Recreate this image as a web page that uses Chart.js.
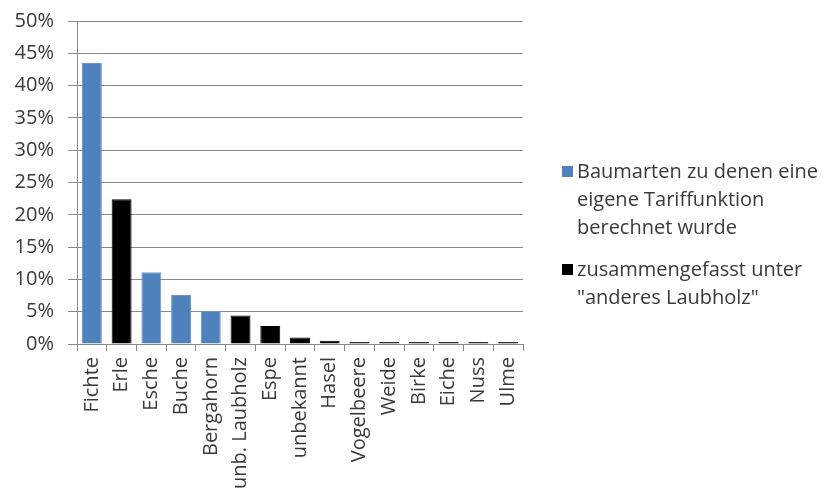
<!DOCTYPE html>
<html>
<head>
<meta charset="utf-8">
<script src="https://cdn.jsdelivr.net/npm/chart.js@4.4.0/dist/chart.umd.min.js"></script>
<style>
  html, body { margin: 0; padding: 0; background: #fff; }
  #wrap { position: relative; width: 829px; height: 491px; overflow: hidden; }
  #legende { position: absolute; left: 562px; top: 157px; font-family: "Open Sans", sans-serif; font-size: 20px; color: #3a3a3a; line-height: 28px; }
  .eintrag { position: relative; padding-left: 15px; margin-bottom: 14px; }
  .box { position: absolute; left: 0; top: 9px; width: 11px; height: 11px; }
</style>
</head>
<body>
<div id="wrap">
  <canvas id="grafico" width="829" height="491"></canvas>
  <div id="legende"></div>
</div>
<script>
const baumarten = ['Fichte', 'Erle', 'Esche', 'Buche', 'Bergahorn', 'unb. Laubholz', 'Espe', 'unbekannt', 'Hasel', 'Vogelbeere', 'Weide', 'Birke', 'Eiche', 'Nuss', 'Ulme'];
const anteile = [43.5, 22.4, 11.1, 7.6, 5.1, 4.4, 2.8, 1.0, 0.5, 0.3, 0.3, 0.3, 0.3, 0.3, 0.3];
// 0 = eigene Tariffunktion, 1 = anderes Laubholz
const gruppe = [0, 1, 0, 0, 0, 1, 1, 1, 1, 1, 1, 1, 1, 1, 1];
const gruppenNamen = ['Baumarten zu denen eine<br>eigene Tariffunktion<br>berechnet wurde', 'zusammengefasst unter<br>"anderes Laubholz"'];
const farben = ['#4F81BD', '#000000'];
const yTicks = [0, 5, 10, 15, 20, 25, 30, 35, 40, 45, 50];

const schrift = { family: '"Open Sans", sans-serif', size: 20 };
const grau = '#8a8a8a';

const grafico = new Chart(document.querySelector('#grafico'), {
  type: 'bar',
  data: {
    labels: baumarten,
    datasets: [{
      data: anteile,
      backgroundColor: gruppe.map(g => farben[g]),
      borderColor: gruppe.map(g => g === 0 ? '#6d95c9' : '#000000'),
      borderWidth: 1,
      categoryPercentage: 1,
      barPercentage: 0.67
    }]
  },
  options: {
    responsive: false,
    animation: false,
    layout: { padding: { top: 21, right: 306, left: 0, bottom: 0 } },
    plugins: { legend: { display: false }, tooltip: { enabled: false } },
    scales: {
      x: {
        afterFit: s => { s.height = 147; s.paddingLeft = 0; s.paddingRight = 0; },
        grid: { offset: true, drawOnChartArea: false, color: grau, tickLength: 7 },
        border: { color: grau },
        ticks: { font: schrift, color: '#3a3a3a', minRotation: 90, maxRotation: 90, autoSkip: false, padding: 6 }
      },
      y: {
        min: 0, max: 50,
        afterFit: s => { s.width = 77; s.paddingTop = 0; s.paddingBottom = 0; },
        afterBuildTicks: s => { s.ticks = yTicks.map(v => ({ value: v })); },
        grid: { color: grau, tickLength: 9 },
        border: { color: grau },
        ticks: { font: schrift, color: '#3a3a3a', padding: 14, callback: v => v + '%' }
      }
    }
  }
});

const legende = document.querySelector('#legende');
gruppenNamen.forEach((name, i) => {
  const el = document.createElement('div');
  el.className = 'eintrag';
  el.innerHTML = '<span class="box" style="background:' + farben[i] + '"></span>' + name;
  legende.appendChild(el);
});
</script>
</body>
</html>
